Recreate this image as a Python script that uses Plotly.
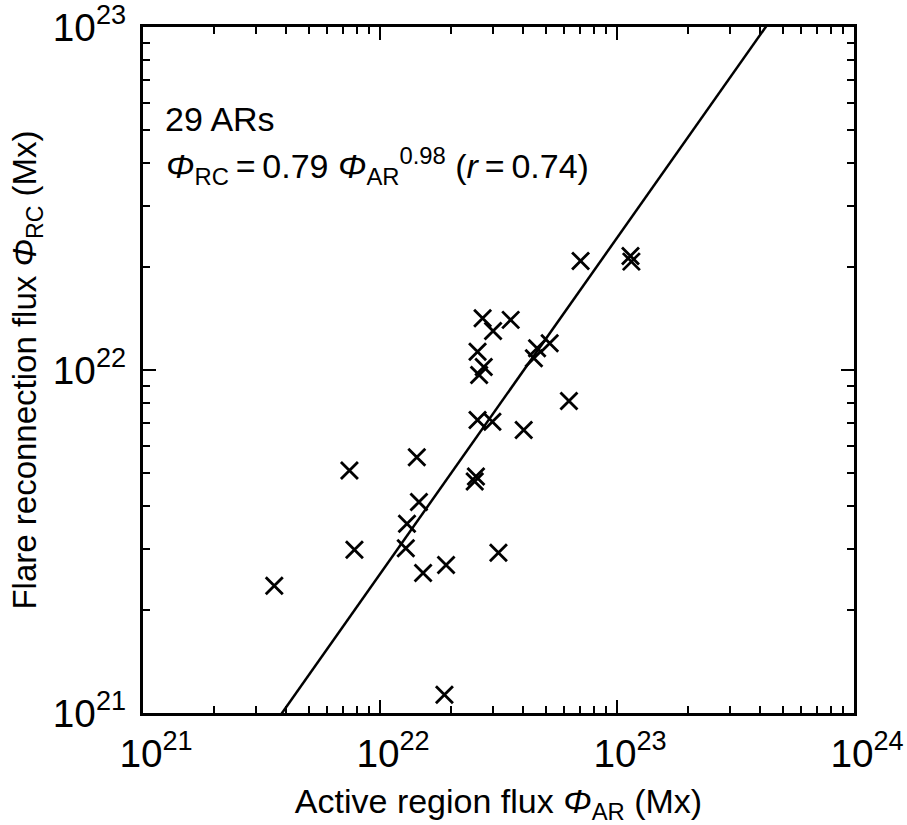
import plotly.graph_objects as go
import numpy as np

# Active region flux (Mx)
phi_ar = [7.02e22, 1.14e23, 1.15e23, 2.71e22, 3.00e22, 3.56e22, 2.58e22, 2.74e22,
          2.62e22, 4.60e22, 5.20e22, 4.46e22, 6.27e22, 2.58e22, 2.98e22, 4.04e22,
          1.43e22, 7.43e21, 2.54e22, 2.51e22, 1.46e22, 1.30e22, 7.80e21, 1.285e22,
          1.52e22, 1.90e22, 3.16e22, 3.58e21, 1.87e22]
# Flare reconnection flux (Mx)
phi_rc = [2.08e22, 2.15e22, 2.07e22, 1.415e22, 1.30e22, 1.40e22, 1.13e22, 1.02e22,
          9.67e21, 1.157e22, 1.196e22, 1.082e22, 8.12e21, 7.15e21, 7.07e21, 6.68e21,
          5.57e21, 5.09e21, 4.89e21, 4.73e21, 4.12e21, 3.56e21, 2.99e21, 3.02e21,
          2.56e21, 2.70e21, 2.93e21, 2.35e21, 1.13e21]

# fitted power law as drawn in the figure
fit_coef = 0.70
fit_exp = 0.98
x_range_log = [21, 24]
y_range_log = [21, 23]

fit_x = np.logspace(x_range_log[0], x_range_log[1], 50)
fit_y = fit_coef * fit_x ** fit_exp

FONT = "Liberation Sans, Arial, sans-serif"
TS = "\u2009"

fig = go.Figure()
fig.add_trace(go.Scatter(x=fit_x, y=fit_y, mode="lines",
                         line=dict(color="black", width=2.5), hoverinfo="skip"))
fig.add_trace(go.Scatter(x=phi_ar, y=phi_rc, mode="markers",
                         marker=dict(symbol="x-thin-open", size=17, color="black",
                                     line=dict(color="black", width=2.8))))

axis_common = dict(
    type="log", dtick=1, exponentformat="power", showexponent="all",
    showline=True, linecolor="black", linewidth=2.5, mirror="allticks",
    ticks="inside", ticklen=13, tickwidth=2, tickcolor="black",
    minor=dict(ticks="inside", ticklen=7, tickwidth=2, tickcolor="black",
               dtick="D1", showgrid=False),
    showgrid=False, zeroline=False, ticklabeloverflow="allow",
    tickfont=dict(family=FONT, size=31, color="black"),
)

fig.update_xaxes(range=x_range_log, **axis_common,
                 title=dict(text="Active region flux <i>Φ</i><sub>AR</sub> (Mx)",
                            font=dict(family=FONT, size=34, color="black"),
                            standoff=18),
                 ticklabelstandoff=6, ticklabelshift=13)
fig.update_yaxes(range=y_range_log, **axis_common,
                 title=dict(text="Flare reconnection flux <i>Φ</i><sub>RC</sub> (Mx)",
                            font=dict(family=FONT, size=33, color="black"),
                            standoff=7),
                 ticklabelstandoff=8)

fig.add_annotation(xref="paper", yref="paper", x=0.028, y=0.866,
                   xanchor="left", yanchor="middle", showarrow=False,
                   text="29 ARs", font=dict(family=FONT, size=34, color="black"))
fig.add_annotation(xref="paper", yref="paper", x=0.029, y=0.797,
                   xanchor="left", yanchor="middle", showarrow=False,
                   text=f"<i>Φ</i><sub>RC</sub>{TS}={TS}0.79 <i>Φ</i><sub>AR</sub><sup>0.98</sup> (<i>r</i>{TS}={TS}0.74)",
                   font=dict(family=FONT, size=34, color="black"))

fig.update_layout(width=907, height=825, showlegend=False,
                  plot_bgcolor="white", paper_bgcolor="white",
                  margin=dict(l=143, r=53, t=27, b=112, autoexpand=False))

fig.write_html("out.html")
